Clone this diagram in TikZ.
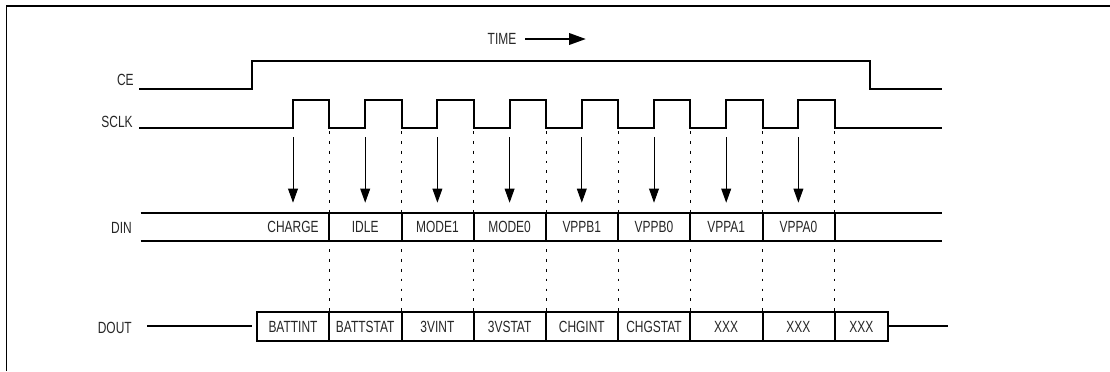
\documentclass[tikz,border=0pt]{standalone}
\usepackage{fontspec}
\setmainfont{Liberation Sans}[FakeStretch=0.74]
\usetikzlibrary{arrows.meta}

\tikzset{
  sig/.style={line width=1.4pt, line join=miter},
  bus/.style={line width=1.4pt},
  gridline/.style={line width=0.7pt, dash pattern=on 2pt off 5pt},
  sample/.style={line width=0.7pt, -{Triangle[length=10pt, width=7pt]}},
  lbl/.style={font=\fontsize{11.5}{13}\selectfont, text=black!85, inner sep=0pt},
}

\begin{document}
\begin{tikzpicture}[x=0.025cm, y=-0.025cm]
    \useasboundingbox (0,0) rectangle (1110,371);
    \draw[line width=1.2pt] (6.5,371) -- (6.5,6) -- (1110,6);

    \node[lbl] (time) at (502,39) {TIME};
    \coordinate (timeend) at (586,39);
    \draw[line width=1.9pt, -{Triangle[length=12pt, width=8pt]}] ([xshift=6pt]time.east) -- (timeend);

    % clock edges
    \foreach \i in {0,...,7} {
      \coordinate (r\i) at ({293+72.2*\i},128);
      \coordinate (f\i) at ({329.4+72.2*\i},128);
      \coordinate (s\i) at ({293+72.2*\i},137);
      \coordinate (t\i) at ({293+72.2*\i},202.7);
      \coordinate (g\i) at ({329.4+72.2*\i},131);
      \coordinate (h\i) at ({329.4+72.2*\i},312.3);
    }

    \node[lbl, anchor=east] (ce) at (134,80) {CE};
    \draw[sig] (139,89) -- (252,89) -- (252,61) -- (870,61) -- (870,89) -- (942,89);

    \node[lbl, anchor=east] (sclk) at (133,122) {SCLK};
    \draw[sig] (139,128) \foreach \i in {0,...,7} { -- (r\i) -- ++(0,-28) -| (f\i) } -- (942,128);

    \foreach \i in {0,...,7} {
      \draw[gridline] (g\i) -- (h\i);
      \draw[sample] (s\i) -- (t\i);
    }

    \node[lbl, anchor=east] (din) at (132,228) {DIN};
    \draw[bus] (140.7,212.7) -- (942,212.7) (140.7,241) -- (942,241);
    \foreach \i in {0,...,7}
      \draw[bus] ({329.4+72.2*\i},212.7) -- ({329.4+72.2*\i},241);
    \foreach \txt [count=\i from 0] in {CHARGE, IDLE, MODE1, MODE0, VPPB1, VPPB0, VPPA1, VPPA0}
      \node[lbl] (din\i) at ({293+72.2*\i},227) {\txt};

    \node[lbl, anchor=east] (dout) at (132,328) {DOUT};
    \draw[sig] (147,326) -- (252,326);
    \draw[bus] (257,312.3) rectangle (888,341);
    \foreach \i in {0,...,7}
      \draw[bus] ({329.4+72.2*\i},312.3) -- ({329.4+72.2*\i},341);
    \draw[sig] (888,326) -- (948,326);
    \foreach \txt [count=\i from 0] in {BATTINT, BATTSTAT, 3VINT, 3VSTAT, CHGINT, CHGSTAT, XXX, XXX}
      \node[lbl] (dout\i) at ({293+72.2*\i},327) {\txt};
    \node[lbl] (dout8) at (861.4,327) {XXX};
\end{tikzpicture}
\end{document}
